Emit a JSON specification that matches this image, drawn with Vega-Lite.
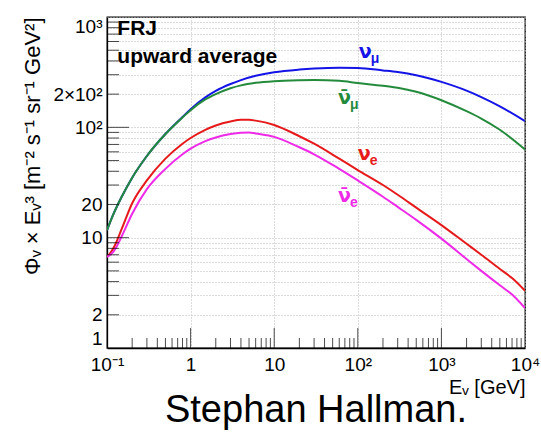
{
  "$schema": "https://vega.github.io/schema/vega-lite/v6.json",
  "width": 418,
  "height": 331,
  "autosize": "none",
  "padding": {"left": 107, "top": 17, "right": 16, "bottom": 85},
  "background": "white",
  "title": {
    "text": "Stephan Hallman.",
    "orient": "bottom",
    "anchor": "middle",
    "font": "Liberation Sans",
    "fontSize": 38,
    "fontWeight": "normal",
    "color": "black",
    "offset": -5
  },
  "config": {
    "view": {"stroke": "black", "strokeWidth": 1.3},
    "axis": {
      "labelFont": "Liberation Sans",
      "titleFont": "Liberation Sans",
      "labelColor": "black",
      "titleColor": "black",
      "domainColor": "black"
    }
  },
  "datasets": {
    "flux": [
      {"nu": "numu", "E": 0.1, "flux": 11.7}, {"nu": "numu", "E": 0.12, "flux": 16.5}, {"nu": "numu", "E": 0.15, "flux": 23.5},
      {"nu": "numu", "E": 0.2, "flux": 35}, {"nu": "numu", "E": 0.3, "flux": 55}, {"nu": "numu", "E": 0.5, "flux": 87},
      {"nu": "numu", "E": 0.8, "flux": 124}, {"nu": "numu", "E": 1, "flux": 146}, {"nu": "numu", "E": 1.5, "flux": 187},
      {"nu": "numu", "E": 2, "flux": 214}, {"nu": "numu", "E": 3, "flux": 247}, {"nu": "numu", "E": 4, "flux": 268},
      {"nu": "numu", "E": 6, "flux": 293}, {"nu": "numu", "E": 10, "flux": 316}, {"nu": "numu", "E": 20, "flux": 334},
      {"nu": "numu", "E": 30, "flux": 341}, {"nu": "numu", "E": 60, "flux": 347}, {"nu": "numu", "E": 100, "flux": 345},
      {"nu": "numu", "E": 200, "flux": 328}, {"nu": "numu", "E": 300, "flux": 317}, {"nu": "numu", "E": 500, "flux": 297},
      {"nu": "numu", "E": 1000, "flux": 258}, {"nu": "numu", "E": 2000, "flux": 215}, {"nu": "numu", "E": 3000, "flux": 188},
      {"nu": "numu", "E": 5000, "flux": 155}, {"nu": "numu", "E": 10000, "flux": 114},

      {"nu": "numubar", "E": 0.1, "flux": 11.7}, {"nu": "numubar", "E": 0.12, "flux": 16.5}, {"nu": "numubar", "E": 0.15, "flux": 23.5},
      {"nu": "numubar", "E": 0.2, "flux": 35}, {"nu": "numubar", "E": 0.3, "flux": 55}, {"nu": "numubar", "E": 0.5, "flux": 87},
      {"nu": "numubar", "E": 0.8, "flux": 123}, {"nu": "numubar", "E": 1, "flux": 143}, {"nu": "numubar", "E": 1.5, "flux": 179},
      {"nu": "numubar", "E": 2, "flux": 200}, {"nu": "numubar", "E": 3, "flux": 226}, {"nu": "numubar", "E": 4, "flux": 240},
      {"nu": "numubar", "E": 6, "flux": 253}, {"nu": "numubar", "E": 10, "flux": 262}, {"nu": "numubar", "E": 20, "flux": 267},
      {"nu": "numubar", "E": 30, "flux": 268}, {"nu": "numubar", "E": 60, "flux": 264}, {"nu": "numubar", "E": 100, "flux": 252},
      {"nu": "numubar", "E": 200, "flux": 238}, {"nu": "numubar", "E": 300, "flux": 228}, {"nu": "numubar", "E": 500, "flux": 210},
      {"nu": "numubar", "E": 1000, "flux": 176}, {"nu": "numubar", "E": 2000, "flux": 140}, {"nu": "numubar", "E": 3000, "flux": 120},
      {"nu": "numubar", "E": 5000, "flux": 95}, {"nu": "numubar", "E": 10000, "flux": 63},

      {"nu": "nue", "E": 0.1, "flux": 6.7}, {"nu": "nue", "E": 0.11, "flux": 7.3}, {"nu": "nue", "E": 0.12, "flux": 8.1},
      {"nu": "nue", "E": 0.15, "flux": 12}, {"nu": "nue", "E": 0.2, "flux": 20.5}, {"nu": "nue", "E": 0.3, "flux": 33},
      {"nu": "nue", "E": 0.5, "flux": 52}, {"nu": "nue", "E": 0.8, "flux": 71}, {"nu": "nue", "E": 1, "flux": 80},
      {"nu": "nue", "E": 1.5, "flux": 95}, {"nu": "nue", "E": 2, "flux": 104}, {"nu": "nue", "E": 3, "flux": 113},
      {"nu": "nue", "E": 4, "flux": 117}, {"nu": "nue", "E": 5, "flux": 117}, {"nu": "nue", "E": 6, "flux": 115},
      {"nu": "nue", "E": 10, "flux": 105}, {"nu": "nue", "E": 20, "flux": 83}, {"nu": "nue", "E": 30, "flux": 71},
      {"nu": "nue", "E": 60, "flux": 52}, {"nu": "nue", "E": 100, "flux": 41}, {"nu": "nue", "E": 200, "flux": 30},
      {"nu": "nue", "E": 300, "flux": 24.5}, {"nu": "nue", "E": 500, "flux": 18.7}, {"nu": "nue", "E": 1000, "flux": 13},
      {"nu": "nue", "E": 2000, "flux": 8.8}, {"nu": "nue", "E": 3000, "flux": 7.0}, {"nu": "nue", "E": 5000, "flux": 5.2},
      {"nu": "nue", "E": 7000, "flux": 4.3}, {"nu": "nue", "E": 10000, "flux": 3.3},

      {"nu": "nuebar", "E": 0.1, "flux": 6.7}, {"nu": "nuebar", "E": 0.11, "flux": 7.0}, {"nu": "nuebar", "E": 0.12, "flux": 7.5},
      {"nu": "nuebar", "E": 0.15, "flux": 10.3}, {"nu": "nuebar", "E": 0.2, "flux": 16.5}, {"nu": "nuebar", "E": 0.3, "flux": 27.5},
      {"nu": "nuebar", "E": 0.5, "flux": 42}, {"nu": "nuebar", "E": 0.8, "flux": 57}, {"nu": "nuebar", "E": 1, "flux": 64},
      {"nu": "nuebar", "E": 1.5, "flux": 75}, {"nu": "nuebar", "E": 2, "flux": 81}, {"nu": "nuebar", "E": 3, "flux": 87},
      {"nu": "nuebar", "E": 4, "flux": 89.5}, {"nu": "nuebar", "E": 5, "flux": 90}, {"nu": "nuebar", "E": 6, "flux": 88},
      {"nu": "nuebar", "E": 10, "flux": 82}, {"nu": "nuebar", "E": 20, "flux": 66}, {"nu": "nuebar", "E": 30, "flux": 57},
      {"nu": "nuebar", "E": 60, "flux": 42}, {"nu": "nuebar", "E": 100, "flux": 33}, {"nu": "nuebar", "E": 200, "flux": 23.5},
      {"nu": "nuebar", "E": 300, "flux": 19}, {"nu": "nuebar", "E": 500, "flux": 14.5}, {"nu": "nuebar", "E": 1000, "flux": 9.8},
      {"nu": "nuebar", "E": 2000, "flux": 6.4}, {"nu": "nuebar", "E": 3000, "flux": 5.0}, {"nu": "nuebar", "E": 5000, "flux": 3.7},
      {"nu": "nuebar", "E": 7000, "flux": 3.05}, {"nu": "nuebar", "E": 10000, "flux": 2.3}
    ],
    "names": [
      {"nu": "numu", "E": 103, "flux": 426, "sym": "ν", "sub": "μ"},
      {"nu": "numubar", "E": 58, "flux": 163, "sym": "ν̄", "sub": "μ"},
      {"nu": "nue", "E": 100, "flux": 50.6, "sym": "ν", "sub": "e"},
      {"nu": "nuebar", "E": 58, "flux": 21.1, "sym": "ν̄", "sub": "e"}
    ],
    "notes": [
      {"E": 0.133, "flux": 688, "txt": "FRJ"},
      {"E": 0.133, "flux": 384, "txt": "upward average"}
    ],
    "xMajor": [{"v": 1}, {"v": 10}, {"v": 100}, {"v": 1000}],
    "xMinor": [
      {"v": 0.2}, {"v": 0.3}, {"v": 0.4}, {"v": 0.5}, {"v": 0.6}, {"v": 0.7}, {"v": 0.8}, {"v": 0.9},
      {"v": 2}, {"v": 3}, {"v": 4}, {"v": 5}, {"v": 6}, {"v": 7}, {"v": 8}, {"v": 9},
      {"v": 20}, {"v": 30}, {"v": 40}, {"v": 50}, {"v": 60}, {"v": 70}, {"v": 80}, {"v": 90},
      {"v": 200}, {"v": 300}, {"v": 400}, {"v": 500}, {"v": 600}, {"v": 700}, {"v": 800}, {"v": 900},
      {"v": 2000}, {"v": 3000}, {"v": 4000}, {"v": 5000}, {"v": 6000}, {"v": 7000}, {"v": 8000}, {"v": 9000}
    ],
    "yMajor": [{"v": 10}, {"v": 100}],
    "yMinor": [
      {"v": 2}, {"v": 3}, {"v": 4}, {"v": 5}, {"v": 6}, {"v": 7}, {"v": 8}, {"v": 9},
      {"v": 20}, {"v": 30}, {"v": 40}, {"v": 50}, {"v": 60}, {"v": 70}, {"v": 80}, {"v": 90},
      {"v": 200}, {"v": 300}, {"v": 400}, {"v": 500}, {"v": 600}, {"v": 700}, {"v": 800}, {"v": 900}
    ]
  },
  "layer": [
    {
      "data": {"name": "flux"},
      "mark": {"type": "line", "strokeWidth": 2, "interpolate": "monotone", "clip": true},
      "encoding": {
        "x": {
          "field": "E", "type": "quantitative",
          "scale": {"type": "log", "domain": [0.1, 10000]},
          "axis": {
            "orient": "bottom",
            "values": [0.1, 1, 10, 100, 1000, 10000],
            "labelExpr": "datum.value < 0.5 ? '10⁻¹' : datum.value < 5 ? '1' : datum.value < 50 ? '10' : datum.value < 500 ? '10²' : datum.value < 5000 ? '10³' : '10⁴'",
            "labelFontSize": 19, "labelPadding": 7, "labelFlush": false, "labelOverlap": false,
            "ticks": false, "domain": true, "domainWidth": 1.3,
            "grid": true, "gridColor": "#b8b8b8", "gridDash": [1, 2], "gridWidth": 1,
            "title": "Eᵥ [GeV]", "titleFontSize": 20, "titleFontWeight": "normal",
            "titleAnchor": "end", "titlePadding": 3
          }
        },
        "y": {
          "field": "flux", "type": "quantitative",
          "scale": {"type": "log", "domain": [1, 1000]},
          "axis": {
            "orient": "left",
            "values": [1, 2, 3, 4, 5, 6, 7, 8, 9, 10, 20, 30, 40, 50, 60, 70, 80, 90, 100, 200, 300, 400, 500, 600, 700, 800, 900, 1000],
            "labelExpr": "datum.value == 1000 ? '10³' : datum.value == 200 ? '2×10²' : datum.value == 100 ? '10²' : datum.value == 20 ? '20' : datum.value == 10 ? '10' : datum.value == 2 ? '2' : datum.value == 1 ? '1' : ''",
            "labelFontSize": 19, "labelPadding": 5, "labelFlush": true, "labelOverlap": false,
            "ticks": false, "domain": true, "domainWidth": 1.3,
            "grid": true, "gridColor": "#b8b8b8", "gridDash": [1, 2], "gridWidth": 1,
            "title": "Φᵥ × Eᵥ³ [m⁻² s⁻¹ sr⁻¹ GeV²]", "titleFontSize": 22, "titleFontWeight": "normal",
            "titleAnchor": "end", "titlePadding": 8
          }
        },
        "color": {
          "field": "nu", "type": "nominal",
          "scale": {"domain": ["numu", "numubar", "nue", "nuebar"], "range": ["#1414e6", "#248a3c", "#e61a1a", "#ee2ae8"]},
          "legend": null
        }
      }
    },
    {
      "data": {"name": "xMajor"},
      "mark": {"type": "tick", "orient": "vertical", "size": 20, "thickness": 1, "yOffset": -10, "color": "black"},
      "encoding": {"x": {"field": "v", "type": "quantitative"}, "y": {"datum": 1, "type": "quantitative"}}
    },
    {
      "data": {"name": "xMinor"},
      "mark": {"type": "tick", "orient": "vertical", "size": 10, "thickness": 1, "yOffset": -5, "color": "black"},
      "encoding": {"x": {"field": "v", "type": "quantitative"}, "y": {"datum": 1, "type": "quantitative"}}
    },
    {
      "data": {"name": "yMajor"},
      "mark": {"type": "tick", "orient": "horizontal", "size": 22, "thickness": 1, "xOffset": 11, "color": "black"},
      "encoding": {"y": {"field": "v", "type": "quantitative"}, "x": {"datum": 0.1, "type": "quantitative"}}
    },
    {
      "data": {"name": "yMinor"},
      "mark": {"type": "tick", "orient": "horizontal", "size": 12, "thickness": 1, "xOffset": 6, "color": "black"},
      "encoding": {"y": {"field": "v", "type": "quantitative"}, "x": {"datum": 0.1, "type": "quantitative"}}
    },
    {
      "data": {"name": "names"},
      "mark": {"type": "text", "align": "left", "baseline": "alphabetic", "font": "DejaVu Sans", "fontWeight": "bold", "fontSize": 19},
      "encoding": {
        "x": {"field": "E", "type": "quantitative"},
        "y": {"field": "flux", "type": "quantitative"},
        "text": {"field": "sym"},
        "color": {"field": "nu", "type": "nominal", "legend": null}
      }
    },
    {
      "data": {"name": "names"},
      "mark": {"type": "text", "align": "left", "baseline": "alphabetic", "font": "Liberation Sans", "fontWeight": "bold", "fontSize": 14, "dx": 12, "dy": 5},
      "encoding": {
        "x": {"field": "E", "type": "quantitative"},
        "y": {"field": "flux", "type": "quantitative"},
        "text": {"field": "sub"},
        "color": {"field": "nu", "type": "nominal", "legend": null}
      }
    },
    {
      "data": {"name": "notes"},
      "mark": {"type": "text", "align": "left", "baseline": "alphabetic", "font": "Liberation Sans", "fontWeight": "bold", "fontSize": 21, "color": "black"},
      "encoding": {
        "x": {"field": "E", "type": "quantitative"},
        "y": {"field": "flux", "type": "quantitative"},
        "text": {"field": "txt"}
      }
    }
  ]
}
